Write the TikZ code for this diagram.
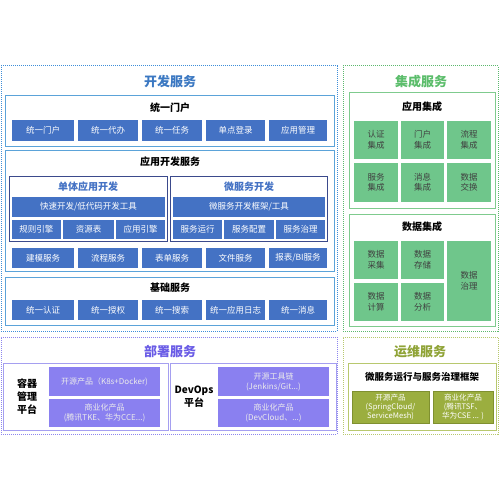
\documentclass[tikz,border=0pt]{standalone}
\usepackage{fontspec}
\setmainfont{Noto Sans CJK SC}
\definecolor{btnblue}{HTML}{4472C4}
\definecolor{pblue}{HTML}{5BA3D9}
\definecolor{dblue}{HTML}{3E8ED8}
\definecolor{navy}{HTML}{3B4A8C}
\definecolor{tblue}{HTML}{3B78C2}
\definecolor{cgreen}{HTML}{6FC68B}
\definecolor{pgreen}{HTML}{7FCB8E}
\definecolor{dgreen}{HTML}{5CB86E}
\definecolor{tgreen}{HTML}{5BBD6B}
\definecolor{cpurple}{HTML}{8A80F0}
\definecolor{ppurple}{HTML}{A59FF0}
\definecolor{dpurple}{HTML}{8D85EE}
\definecolor{tpurple}{HTML}{6A5CE6}
\definecolor{colive}{HTML}{9BAE3F}
\definecolor{bolive}{HTML}{7F9030}
\definecolor{dolive}{HTML}{B8C86E}
\definecolor{tolive}{HTML}{8FA336}
\tikzset{
  base/.style={inner sep=0pt,outer sep=0pt,align=center},
  outerdot/.style={base,draw=#1,line width=1pt,dash pattern=on 1pt off 1pt},
  panel/.style={base,draw=#1,line width=1pt,fill=white},
  subbox/.style={base,draw=navy,line width=1pt,fill=white},
  btn/.style={base,fill=btnblue,text=white,font=\fontsize{8.5}{10}\selectfont},
  gcell/.style={base,fill=cgreen,text=black!75,font=\fontsize{8.5}{10.5}\selectfont},
  pcell/.style={base,fill=cpurple,text=white!92!black,font=\fontsize{8}{10}\selectfont},
  ocell/.style={base,fill=colive,draw=bolive,line width=0.5pt,text=white,font=\fontsize{7.6}{9.4}\selectfont},
  bigtitle/.style={base,font=\bfseries\fontsize{13}{15}\selectfont},
  ptitle/.style={base,font=\bfseries\fontsize{10}{12}\selectfont},
  stitle/.style={base,text=btnblue,font=\bfseries\fontsize{10}{12}\selectfont},
}
\newcommand\bx[7]{\node[#6,minimum width={#4-#2},minimum height={#5-#3}] (#1) at ({(#2+#4)/2},{(#3+#5)/2}) {#7};}
\begin{document}
\begin{tikzpicture}[x=1pt,y=-1pt]
\useasboundingbox[fill=white] (0,0) rectangle (500,500);
% ===== 开发服务 =====
\bx{dev}{1}{66}{337}{331}{outerdot=dblue}{}
\node[bigtitle,text=tblue] (devT) at (170,82) {开发服务};
\bx{portal}{5}{96}{334}{146}{panel=pblue}{}
\node[ptitle] (portalT) at (170,108) {统一门户};
\bx{p1}{12}{120}{74}{141}{btn}{统一门户}
\bx{p2}{78}{120}{138}{141}{btn}{统一代办}
\bx{p3}{142}{120}{202}{141}{btn}{统一任务}
\bx{p4}{206}{120}{265}{141}{btn}{单点登录}
\bx{p5}{269}{120}{327}{141}{btn}{应用管理}
\bx{app}{5}{150}{334}{271}{panel=pblue}{}
\node[ptitle] (appT) at (170,162) {应用开发服务};
\bx{mono}{9}{176}{167}{241}{subbox}{}
\node[stitle] (monoT) at (88,187) {单体应用开发};
\bx{m1}{12}{197}{165}{217}{btn}{快速开发/低代码开发工具}
\bx{m2}{12}{220}{61}{239}{btn}{规则引擎}
\bx{m3}{63}{220}{114}{239}{btn}{资源表}
\bx{m4}{116}{220}{165}{239}{btn}{应用引擎}
\bx{micro}{170}{176}{327}{241}{subbox}{}
\node[stitle] (microT) at (249,187) {微服务开发};
\bx{s1}{173}{197}{325}{217}{btn}{微服务开发框架/工具}
\bx{s2}{173}{220}{222}{239}{btn}{服务运行}
\bx{s3}{224}{220}{274}{239}{btn}{服务配置}
\bx{s4}{276}{220}{325}{239}{btn}{服务治理}
\bx{r1}{12}{248}{74}{268}{btn}{建模服务}
\bx{r2}{78}{248}{138}{268}{btn}{流程服务}
\bx{r3}{142}{248}{202}{268}{btn}{表单服务}
\bx{r4}{206}{248}{265}{268}{btn}{文件服务}
\bx{r5}{269}{248}{327}{268}{btn}{报表/BI服务}
\bx{basis}{5}{277}{334}{325}{panel=pblue}{}
\node[ptitle] (basisT) at (170,288) {基础服务};
\bx{b1}{12}{300}{74}{320}{btn}{统一认证}
\bx{b2}{78}{300}{138}{320}{btn}{统一授权}
\bx{b3}{142}{300}{202}{320}{btn}{统一搜索}
\bx{b4}{206}{300}{265}{320}{btn}{统一应用日志}
\bx{b5}{269}{300}{327}{320}{btn}{统一消息}
% ===== 集成服务 =====
\bx{integ}{343}{66}{498}{331}{outerdot=dgreen}{}
\node[bigtitle,text=tgreen] (integT) at (421,82) {集成服务};
\bx{ai}{349}{93}{495}{208}{panel=pgreen}{}
\node[ptitle] (aiT) at (422,107) {应用集成};
\bx{a1}{354}{121}{398}{159}{gcell}{认证\\集成}
\bx{a2}{401}{121}{444}{159}{gcell}{门户\\集成}
\bx{a3}{447}{121}{491}{159}{gcell}{流程\\集成}
\bx{a4}{354}{163}{398}{202}{gcell}{服务\\集成}
\bx{a5}{401}{163}{444}{202}{gcell}{消息\\集成}
\bx{a6}{447}{163}{491}{202}{gcell}{数据\\交换}
\bx{di}{349}{214}{495}{326}{panel=pgreen}{}
\node[ptitle] (diT) at (422,227) {数据集成};
\bx{d1}{354}{241}{398}{279}{gcell}{数据\\采集}
\bx{d2}{401}{241}{444}{279}{gcell}{数据\\存储}
\bx{d3}{354}{283}{398}{321}{gcell}{数据\\计算}
\bx{d4}{401}{283}{444}{321}{gcell}{数据\\分析}
\bx{d5}{447}{241}{491}{321}{gcell}{数据\\治理}
% ===== 部署服务 =====
\bx{dep}{1}{337}{337}{434}{outerdot=dpurple}{}
\node[bigtitle,text=tpurple] (depT) at (170,352) {部署服务};
\bx{cont}{3}{363}{168}{430}{panel=ppurple}{}
\node[ptitle,font=\bfseries\fontsize{10}{13}\selectfont] (contT) at (27,397) {容器\\管理\\平台};
\bx{c1}{49}{367}{160}{396}{pcell}{开源产品（K8s+Docker)}
\bx{c2}{49}{399}{160}{427}{pcell}{商业化产品\\(腾讯TKE、华为CCE...)}
\bx{dops}{170}{363}{336}{430}{panel=ppurple}{}
\node[ptitle,font=\bfseries\fontsize{10}{13}\selectfont] (dopsT) at (194,397) {DevOps\\平台};
\bx{o1}{218}{367}{329}{396}{pcell}{开源工具链\\(Jenkins/Git...)}
\bx{o2}{218}{399}{329}{427}{pcell}{商业化产品\\(DevCloud、...)}
% ===== 运维服务 =====
\bx{ops}{343}{337}{498}{434}{outerdot=dolive}{}
\node[bigtitle,text=tolive] (opsT) at (420,352) {运维服务};
\bx{fw}{348}{363}{496}{430}{panel=dolive}{}
\node[ptitle,font=\bfseries\fontsize{9.5}{11}\selectfont] (fwT) at (422,377) {微服务运行与服务治理框架};
\bx{f1}{352}{391}{429}{423}{ocell}{开源产品\\(SpringCloud/\\ServiceMesh)}
\bx{f2}{433}{391}{493}{423}{ocell}{商业化产品\\(腾讯TSF、\\华为CSE ... )}
\end{tikzpicture}
\end{document}
